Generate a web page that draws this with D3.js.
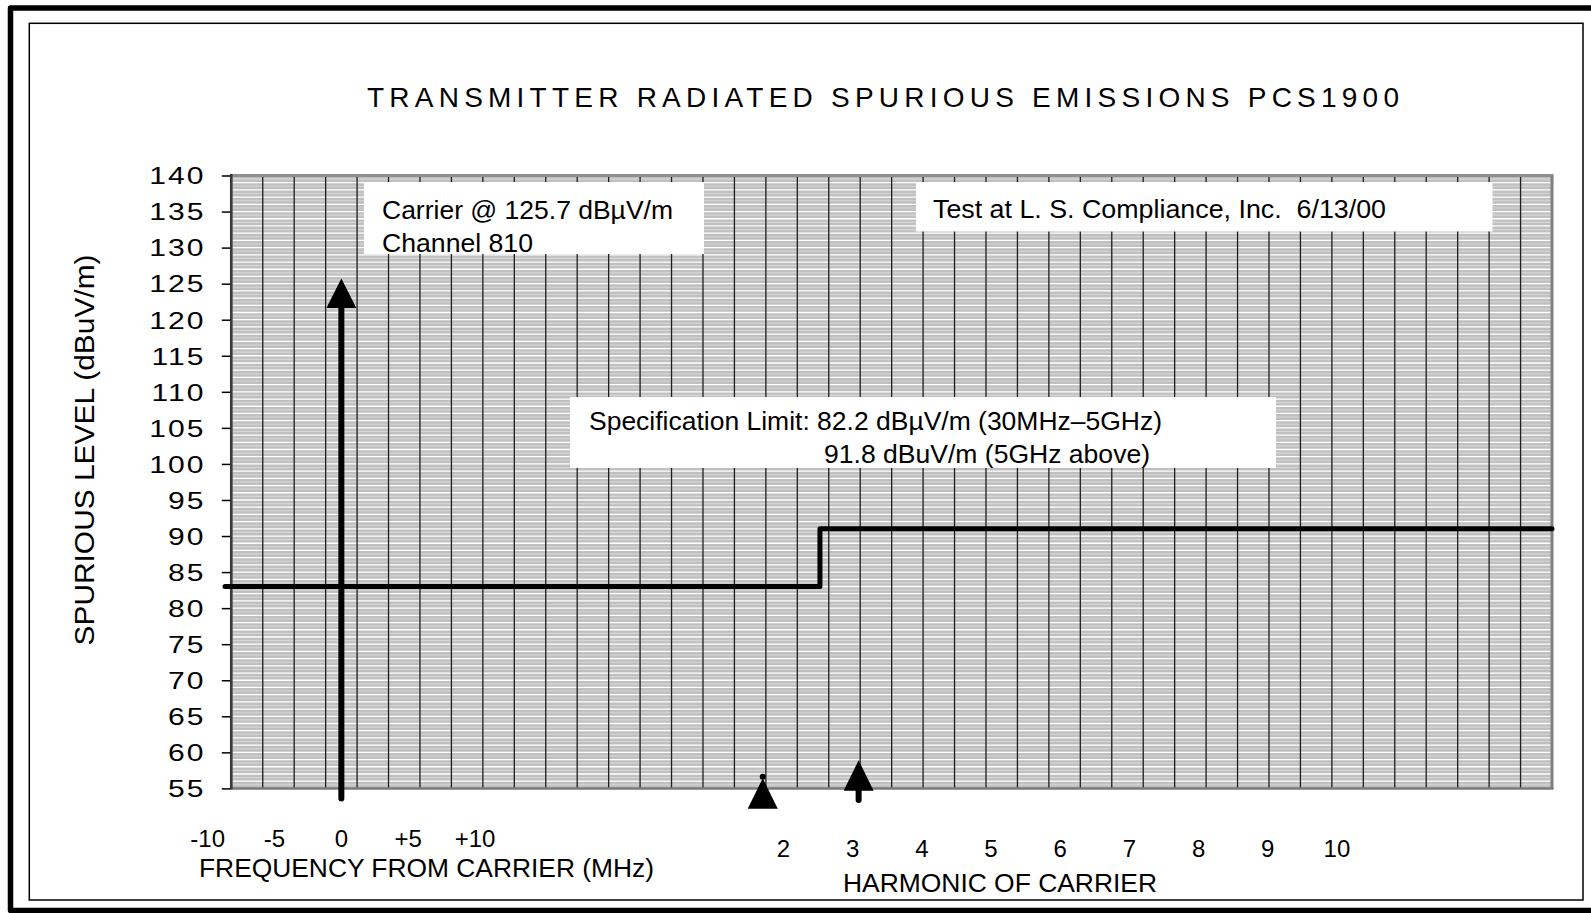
<!DOCTYPE html>
<html><head><meta charset="utf-8">
<script src="https://cdn.jsdelivr.net/npm/d3@7"></script>
<style>html,body{margin:0;padding:0;background:#fff;overflow:hidden}</style>
</head><body><svg id="c" width="1591" height="913"></svg>
<script>
// ---------- data ----------
const titleText = "TRANSMITTER RADIATED SPURIOUS EMISSIONS PCS1900";
const yTitle = "SPURIOUS LEVEL (dBuV/m)";
const yTicks = [55,60,65,70,75,80,85,90,95,100,105,110,115,120,125,130,135,140];
const gridColumns = 42;                       // number of vertical grid cells
const freqTickValues = [-10,-5,0,5,10];
const freqTickLabels = ["-10","-5","0","+5","+10"];
const freqTitle = "FREQUENCY FROM CARRIER (MHz)";
const harmonicValues = [2,3,4,5,6,7,8,9,10];
const harmonicLabels = ["2","3","4","5","6","7","8","9","10"];
const harmonicTitle = "HARMONIC OF CARRIER";
// specification limit (step line) in grid-column units / dBuV/m
const limitCol = [-0.2, 18.72, 18.72, 42];
const limitLevel = [83, 83, 91, 91];
// arrows: carrier and harmonics
const arrowNames = ["carrier","harm2","harm3"];
const arrowCol = [3.5, 16.9, 19.95];
const arrowTip = [125.7, 56.4, 58.9];
const arrowBottom = [53.6, 56.6, 53.4];
// annotation texts
const carrierNote = ["Carrier @ 125.7 dB\u00b5V/m", "Channel 810"];
const testNote = ["Test at L. S. Compliance, Inc.\u00a0 6/13/00"];
const specNote = ["Specification Limit: 82.2 dB\u00b5V/m (30MHz\u20135GHz)", "91.8 dBuV/m (5GHz above)"];

// ---------- layout ----------
const svg = d3.select("#c");
const FONT = "'Liberation Sans', Arial, sans-serif";
const P = {l:231.3, r:1552, t:175.5, b:788.4};
const x = d3.scaleLinear().domain([0, gridColumns]).range([P.l, P.r]);
const y = d3.scaleLinear().domain([55, 140]).range([P.b, P.t]);
const freqToCol = d3.scaleLinear().domain([-10, 10]).range([-0.75, 7.75]);
const harmToCol = d3.scaleLinear().domain([2, 10]).range([17.56, 35.16]);

// frames
svg.append("path").attr("d","M1600,8 L10.5,8 L10.5,910.5 L1600,910.5")
  .attr("fill","none").attr("stroke","#000").attr("stroke-width",5.5).attr("stroke-linejoin","round");
svg.append("rect").attr("x",29.3).attr("y",23.3).attr("width",1553.7).attr("height",876.7)
  .attr("fill","none").attr("stroke","#000").attr("stroke-width",1.5);

// title
svg.append("text").attr("x",367).attr("y",107).attr("font-family",FONT).attr("font-size",28)
  .attr("textLength",1032).attr("lengthAdjust","spacing").attr("fill","#000").text(titleText);

// plot background
const plot = svg.append("g");
plot.append("rect").attr("x",P.l).attr("y",P.t).attr("width",P.r-P.l).attr("height",P.b-P.t).attr("fill","#c0c0c0");
// horizontal pattern lines
const minor = d3.range(55.5, 140, 0.5);
plot.selectAll("line.h").data(minor).join("line").attr("class","h")
  .attr("x1",P.l).attr("x2",P.r).attr("y1",d=>y(d)).attr("y2",d=>y(d))
  .attr("stroke",d=>Number.isInteger(d)?"#ffffff":"#d6d6d6")
  .attr("stroke-width",d=>Number.isInteger(d)?1.3:1.1);
// vertical grid
plot.selectAll("line.v").data(d3.range(1, gridColumns)).join("line").attr("class","v")
  .attr("x1",d=>x(d)).attr("x2",d=>x(d)).attr("y1",P.t).attr("y2",P.b)
  .attr("stroke","#1e1e1e").attr("stroke-width",1.3);
// borders
plot.append("line").attr("x1",P.l).attr("x2",P.r+1.5).attr("y1",P.t).attr("y2",P.t).attr("stroke","#8e8e8e").attr("stroke-width",3);
plot.append("line").attr("x1",P.r).attr("x2",P.r).attr("y1",P.t).attr("y2",P.b).attr("stroke","#808080").attr("stroke-width",3);
plot.append("line").attr("x1",P.l).attr("x2",P.r+1.5).attr("y1",P.b).attr("y2",P.b).attr("stroke","#7a7a7a").attr("stroke-width",2.5);
plot.append("line").attr("x1",P.l).attr("x2",P.l).attr("y1",P.t-1.5).attr("y2",P.b+1.2).attr("stroke","#3c3c3c").attr("stroke-width",2.7);

// y axis
const yAxisG = svg.append("g").attr("transform",`translate(${P.l-1},0)`)
  .call(d3.axisLeft(y).tickValues(yTicks).tickSize(8.5).tickFormat(d3.format("d")));
yAxisG.select(".domain").remove();
yAxisG.selectAll(".tick line").attr("stroke","#000").attr("stroke-width",1.5);
yAxisG.selectAll(".tick text").attr("x",null).attr("dy",null)
  .attr("transform","translate(-25,8.3) scale(1.28,1)")
  .attr("font-family",FONT).attr("font-size",23.5).attr("letter-spacing",1.5)
  .attr("fill","#000").attr("text-anchor","end");

// y title
svg.append("text").attr("transform","translate(94,450) rotate(-90)")
  .attr("text-anchor","middle").attr("font-family",FONT).attr("font-size",28)
  .attr("textLength",391).attr("lengthAdjust","spacingAndGlyphs").text(yTitle);

// text boxes
function box(id, x0, y0, x1, y1, lines, tx, baselines, lengths, fs){
  svg.append("clipPath").attr("id",id).append("rect")
    .attr("x",x0).attr("y",y0).attr("width",x1-x0).attr("height",y1-y0);
  svg.append("rect").attr("x",x0).attr("y",y0).attr("width",x1-x0).attr("height",y1-y0).attr("fill","#fff");
  const g = svg.append("g").attr("clip-path",`url(#${id})`);
  lines.forEach((t,i)=>{
    g.append("text").attr("x",tx[i]).attr("y",baselines[i]).attr("font-family",FONT)
      .attr("font-size",fs).attr("textLength",lengths[i]).attr("lengthAdjust","spacingAndGlyphs")
      .attr("fill","#000").text(t);
  });
}
box("cb1", 364, 182, 704, 254, carrierNote, [382,382], [219,252], [291,151], 25);
box("cb2", 916, 182, 1492.5, 231.5, testNote, [933], [218], [453], 25);
box("cb3", 570, 397, 1276, 468, specNote, [589,824], [430,463], [573,326], 25);

// specification limit line
const limitPts = limitCol.map((c,i)=>[x(c), y(limitLevel[i])]);
svg.append("path").attr("d", d3.line()(limitPts)).attr("fill","none")
  .attr("stroke","#000").attr("stroke-width",5).attr("stroke-linecap","round").attr("stroke-linejoin","round");

// arrows
arrowNames.forEach((n,i)=>{
  const cx = x(arrowCol[i]), ty = y(arrowTip[i]);
  const headH = i===0 ? 29.5 : 30.5, headW = 15;
  const yb = y(arrowBottom[i]);
  const yTop = Math.min(yb, ty + headH - 2);
  svg.append("line").attr("x1",cx).attr("x2",cx).attr("y1",yb).attr("y2",yTop)
    .attr("stroke","#000").attr("stroke-width",6).attr("stroke-linecap","round");
  svg.append("path").attr("d", d3.line()([[cx,ty],[cx+headW,ty+headH],[cx-headW,ty+headH]])+"Z").attr("fill","#000");
});

// frequency labels
svg.selectAll("text.f").data(freqTickValues).join("text").attr("class","f")
  .attr("x",d=>x(freqToCol(d))).attr("y",847).attr("text-anchor","middle")
  .attr("font-family",FONT).attr("font-size",24).text((d,i)=>freqTickLabels[i]);
svg.append("text").attr("x",199).attr("y",877).attr("font-family",FONT).attr("font-size",25)
  .attr("textLength",455).attr("lengthAdjust","spacingAndGlyphs").text(freqTitle);

// harmonic labels
svg.selectAll("text.hm").data(harmonicValues).join("text").attr("class","hm")
  .attr("x",d=>x(harmToCol(d))).attr("y",857).attr("text-anchor","middle")
  .attr("font-family",FONT).attr("font-size",24).text((d,i)=>harmonicLabels[i]);
svg.append("text").attr("x",843).attr("y",892).attr("font-family",FONT).attr("font-size",25)
  .attr("textLength",314).attr("lengthAdjust","spacingAndGlyphs").text(harmonicTitle);
</script></body></html>
